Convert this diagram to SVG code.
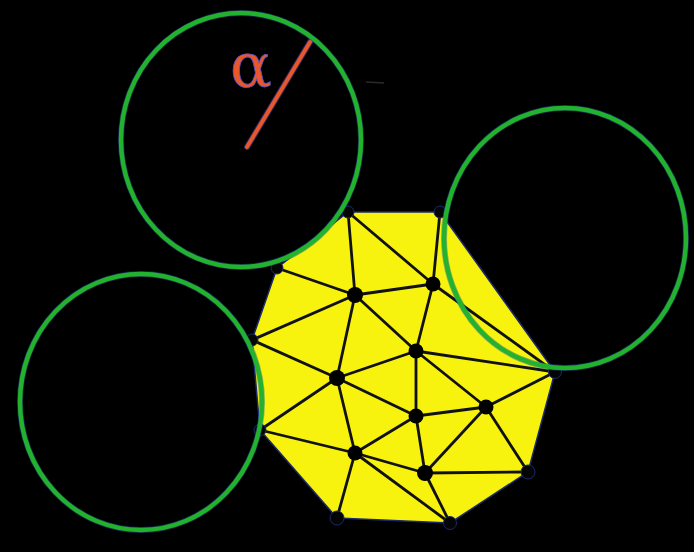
<svg xmlns="http://www.w3.org/2000/svg" width="694" height="552" viewBox="0 0 694 552">
<style>
.hull{fill:#f7f20e;stroke:#1b2a6b;stroke-width:1.5;stroke-linejoin:round}
.e{stroke:#111;stroke-width:2.8;stroke-linecap:round}
.n{fill:#000}
.hv{fill:#050505;stroke:#1b2a6b;stroke-width:1}
.ring{fill:none;stroke:#22b22e;stroke-width:4.5}
.ringo{fill:none;stroke:#2e5fb0;stroke-width:6;opacity:0.45}
.alpha{font-family:"DejaVu Serif","Liberation Serif",serif;font-size:62px;fill:#e8562c;stroke:#5b52c8;stroke-width:0.8}
</style>
<rect width="694" height="552" fill="#000"/>
<g id="mesh">
<polygon class="hull" points="348,212 440,212 555,372 528,472 450,523 337,518 260,430 252,340 277,268"/>
</g>
<g id="connectors">
<line class="e" x1="348" y1="212" x2="355" y2="295"/>
<line class="e" x1="348" y1="212" x2="433" y2="284"/>
<line class="e" x1="440" y1="212" x2="433" y2="284"/>
<line class="e" x1="277" y1="268" x2="355" y2="295"/>
<line class="e" x1="355" y1="295" x2="433" y2="284"/>
<line class="e" x1="252" y1="340" x2="355" y2="295"/>
<line class="e" x1="355" y1="295" x2="416" y2="351"/>
<line class="e" x1="355" y1="295" x2="337" y2="378"/>
<line class="e" x1="433" y1="284" x2="416" y2="351"/>
<line class="e" x1="433" y1="284" x2="555" y2="372"/>
<line class="e" x1="252" y1="340" x2="337" y2="378"/>
<line class="e" x1="416" y1="351" x2="337" y2="378"/>
<line class="e" x1="416" y1="351" x2="555" y2="372"/>
<line class="e" x1="416" y1="351" x2="416" y2="416"/>
<line class="e" x1="416" y1="351" x2="486" y2="407"/>
<line class="e" x1="337" y1="378" x2="416" y2="416"/>
<line class="e" x1="337" y1="378" x2="260" y2="430"/>
<line class="e" x1="337" y1="378" x2="355" y2="453"/>
<line class="e" x1="260" y1="430" x2="355" y2="453"/>
<line class="e" x1="416" y1="416" x2="355" y2="453"/>
<line class="e" x1="416" y1="416" x2="486" y2="407"/>
<line class="e" x1="416" y1="416" x2="425" y2="473"/>
<line class="e" x1="486" y1="407" x2="555" y2="372"/>
<line class="e" x1="486" y1="407" x2="425" y2="473"/>
<line class="e" x1="486" y1="407" x2="528" y2="472"/>
<line class="e" x1="355" y1="453" x2="425" y2="473"/>
<line class="e" x1="355" y1="453" x2="337" y2="518"/>
<line class="e" x1="355" y1="453" x2="450" y2="523"/>
<line class="e" x1="425" y1="473" x2="450" y2="523"/>
<line class="e" x1="425" y1="473" x2="528" y2="472"/>
</g>
<g id="hull-vertices">
<circle class="hv" cx="348" cy="212" r="6"/>
<circle class="hv" cx="440" cy="212" r="6"/>
<circle class="hv" cx="277" cy="268" r="6"/>
<circle class="hv" cx="252" cy="340" r="6"/>
<circle class="hv" cx="260" cy="430" r="6"/>
<circle class="hv" cx="337" cy="518" r="7"/>
<circle class="hv" cx="450" cy="523" r="6.5"/>
<circle class="hv" cx="528" cy="472" r="7"/>
<circle class="hv" cx="555" cy="372" r="6.5"/>
</g>
<g id="interior-nodes">
<circle class="n" cx="355" cy="295" r="8"/>
<circle class="n" cx="433" cy="284" r="7.5"/>
<circle class="n" cx="416" cy="351" r="7.5"/>
<circle class="n" cx="337" cy="378" r="8"/>
<circle class="n" cx="416" cy="416" r="7.5"/>
<circle class="n" cx="486" cy="407" r="7.5"/>
<circle class="n" cx="355" cy="453" r="7.5"/>
<circle class="n" cx="425" cy="473" r="8"/>
</g>
<g id="circle-top">
<ellipse class="ringo" cx="241" cy="140" rx="120" ry="127"/>
<ellipse class="ring" cx="241" cy="140" rx="120" ry="127"/>
<line x1="247" y1="147" x2="310" y2="42" stroke="#5b52c8" stroke-width="6" stroke-linecap="round" opacity="0.5"/>
<line x1="247" y1="147" x2="310" y2="42" stroke="#e8562c" stroke-width="4" stroke-linecap="round"/>
<text class="alpha" x="230" y="87">α</text>
</g>
<g id="circle-right">
<ellipse class="ringo" cx="565" cy="238" rx="121" ry="130"/>
<ellipse class="ring" cx="565" cy="238" rx="121" ry="130"/>
</g>
<g id="circle-left">
<ellipse class="ringo" cx="141" cy="402" rx="121" ry="128"/>
<ellipse class="ring" cx="141" cy="402" rx="121" ry="128"/>
</g>
<line x1="366" y1="82" x2="384" y2="83" stroke="#2a2a2a" stroke-width="1.5"/>
</svg>
